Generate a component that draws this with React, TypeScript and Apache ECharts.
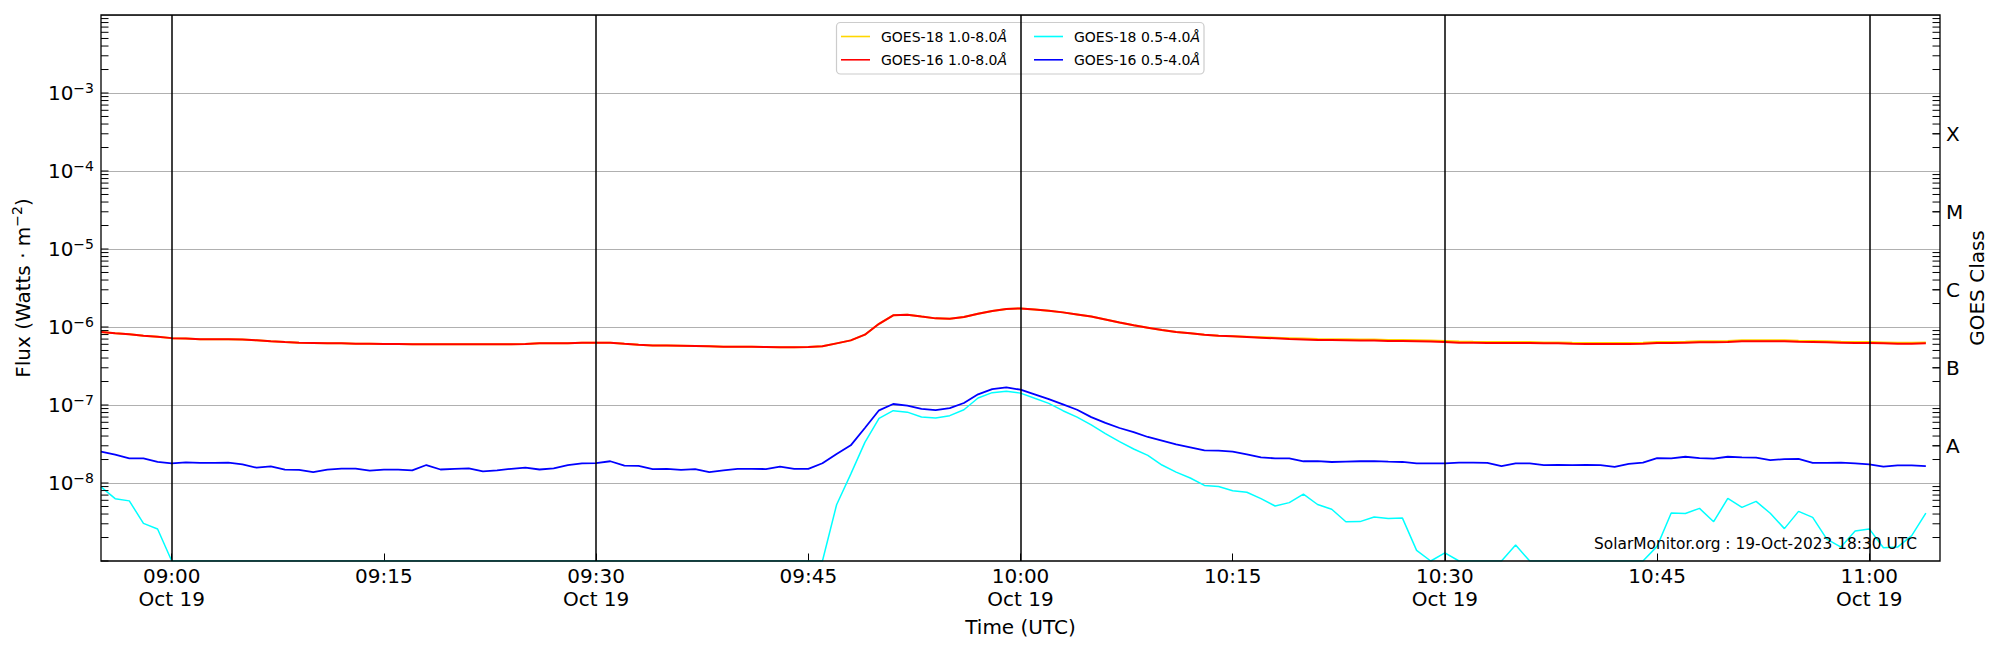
import React, { useEffect, useRef } from 'react';
import * as echarts from 'echarts';

const FONT = 'DejaVu Sans';

// Data: 1-minute cadence starting 08:55 UTC (minutes of day)
const START_MINUTE = 535;
const X_MIN = 535;
const X_MAX = 665;

const goes18Long = [
  8.6e-7, 8.3e-7, 8.05e-7, 7.7e-7, 7.5e-7, 7.2e-7, 7.1e-7, 6.95e-7, 6.95e-7, 6.95e-7,
  6.9e-7, 6.75e-7, 6.55e-7, 6.4e-7, 6.3e-7, 6.24e-7, 6.17e-7, 6.17e-7, 6.12e-7, 6.12e-7,
  6.06e-7, 6.06e-7, 6.0e-7, 6.0e-7, 6.0e-7, 6.0e-7, 6.0e-7, 6.0e-7, 6.0e-7, 6.0e-7,
  6.06e-7, 6.17e-7, 6.2e-7, 6.2e-7, 6.3e-7, 6.3e-7, 6.3e-7, 6.1e-7, 5.94e-7, 5.8e-7,
  5.8e-7, 5.75e-7, 5.7e-7, 5.65e-7, 5.6e-7, 5.6e-7, 5.58e-7, 5.55e-7, 5.52e-7, 5.52e-7,
  5.55e-7, 5.65e-7, 6.17e-7, 6.74e-7, 7.97e-7, 1.1e-6, 1.41e-6, 1.44e-6, 1.36e-6, 1.29e-6,
  1.28e-6, 1.34e-6, 1.48e-6, 1.6e-6, 1.7e-6, 1.73e-6, 1.68e-6, 1.62e-6, 1.54e-6, 1.45e-6,
  1.36e-6, 1.25e-6, 1.14e-6, 1.05e-6, 9.8e-7, 9.15e-7, 8.6e-7, 8.3e-7, 7.97e-7, 7.7e-7,
  7.6e-7, 7.5e-7, 7.4e-7, 7.3e-7, 7.2e-7, 7.1e-7, 7.0e-7, 6.98e-7, 6.95e-7, 6.9e-7,
  6.9e-7, 6.82e-7, 6.8e-7, 6.75e-7, 6.7e-7, 6.62e-7, 6.5e-7, 6.45e-7, 6.42e-7, 6.42e-7,
  6.42e-7, 6.4e-7, 6.35e-7, 6.35e-7, 6.28e-7, 6.25e-7, 6.25e-7, 6.25e-7, 6.25e-7, 6.3e-7,
  6.42e-7, 6.42e-7, 6.48e-7, 6.55e-7, 6.55e-7, 6.62e-7, 6.75e-7, 6.75e-7, 6.75e-7, 6.75e-7,
  6.68e-7, 6.62e-7, 6.55e-7, 6.48e-7, 6.42e-7, 6.42e-7, 6.35e-7, 6.28e-7, 6.28e-7, 6.35e-7,
];

const goes16Long = [
  8.6e-7, 8.3e-7, 8.05e-7, 7.7e-7, 7.5e-7, 7.2e-7, 7.1e-7, 6.95e-7, 6.95e-7, 6.95e-7,
  6.9e-7, 6.75e-7, 6.55e-7, 6.4e-7, 6.3e-7, 6.24e-7, 6.17e-7, 6.17e-7, 6.12e-7, 6.12e-7,
  6.06e-7, 6.06e-7, 6.0e-7, 6.0e-7, 6.0e-7, 6.0e-7, 6.0e-7, 6.0e-7, 6.0e-7, 6.0e-7,
  6.06e-7, 6.17e-7, 6.2e-7, 6.2e-7, 6.3e-7, 6.3e-7, 6.3e-7, 6.1e-7, 5.94e-7, 5.8e-7,
  5.8e-7, 5.75e-7, 5.7e-7, 5.65e-7, 5.6e-7, 5.6e-7, 5.58e-7, 5.55e-7, 5.52e-7, 5.52e-7,
  5.55e-7, 5.65e-7, 6.17e-7, 6.74e-7, 7.97e-7, 1.1e-6, 1.41e-6, 1.44e-6, 1.36e-6, 1.29e-6,
  1.28e-6, 1.34e-6, 1.48e-6, 1.6e-6, 1.7e-6, 1.73e-6, 1.68e-6, 1.62e-6, 1.54e-6, 1.45e-6,
  1.36e-6, 1.25e-6, 1.14e-6, 1.05e-6, 9.8e-7, 9.15e-7, 8.6e-7, 8.3e-7, 7.97e-7, 7.7e-7,
  7.6e-7, 7.45e-7, 7.3e-7, 7.15e-7, 7.0e-7, 6.9e-7, 6.8e-7, 6.8e-7, 6.75e-7, 6.7e-7,
  6.7e-7, 6.6e-7, 6.6e-7, 6.55e-7, 6.5e-7, 6.42e-7, 6.3e-7, 6.27e-7, 6.24e-7, 6.24e-7,
  6.24e-7, 6.24e-7, 6.17e-7, 6.17e-7, 6.1e-7, 6.06e-7, 6.06e-7, 6.06e-7, 6.06e-7, 6.12e-7,
  6.24e-7, 6.24e-7, 6.3e-7, 6.36e-7, 6.36e-7, 6.42e-7, 6.55e-7, 6.55e-7, 6.55e-7, 6.55e-7,
  6.48e-7, 6.42e-7, 6.36e-7, 6.3e-7, 6.24e-7, 6.24e-7, 6.17e-7, 6.1e-7, 6.1e-7, 6.17e-7,
];

const goes18Short = [
  8.9e-9, 6.3e-9, 5.9e-9, 3.04e-9, 2.57e-9, 1e-9, 1e-9, 1e-9, 1e-9, 1e-9,
  1e-9, 1e-9, 1e-9, 1e-9, 1e-9, 1e-9, 1e-9, 1e-9, 1e-9, 1e-9,
  1e-9, 1e-9, 1e-9, 1e-9, 1e-9, 1e-9, 1e-9, 1e-9, 1e-9, 1e-9,
  1e-9, 1e-9, 1e-9, 1e-9, 1e-9, 1e-9, 1e-9, 1e-9, 1e-9, 1e-9,
  1e-9, 1e-9, 1e-9, 1e-9, 1e-9, 1e-9, 1e-9, 1e-9, 1e-9, 1e-9,
  1e-9, 1e-9, 5.27e-9, 1.3e-8, 3.32e-8, 6.75e-8, 8.45e-8, 8.1e-8, 7.0e-8, 6.8e-8,
  7.3e-8, 8.7e-8, 1.23e-7, 1.44e-7, 1.5e-7, 1.42e-7, 1.22e-7, 1.05e-7, 8.45e-8, 7.0e-8,
  5.55e-8, 4.29e-8, 3.39e-8, 2.73e-8, 2.26e-8, 1.7e-8, 1.38e-8, 1.16e-8, 9.3e-9, 9.0e-9,
  7.97e-9, 7.6e-9, 6.3e-9, 5.07e-9, 5.6e-9, 7.2e-9, 5.3e-9, 4.6e-9, 3.19e-9, 3.2e-9,
  3.66e-9, 3.5e-9, 3.55e-9, 1.37e-9, 1e-9, 1.27e-9, 1e-9, 1e-9, 1e-9, 1e-9,
  1.6e-9, 1e-9, 1e-9, 1e-9, 1e-9, 1e-9, 1e-9, 1e-9, 1e-9, 1e-9,
  1.54e-9, 4.12e-9, 4.06e-9, 4.73e-9, 3.19e-9, 6.35e-9, 4.87e-9, 5.82e-9, 4.09e-9, 2.6e-9,
  4.33e-9, 3.63e-9, 1.91e-9, 1.51e-9, 2.43e-9, 2.58e-9, 1.48e-9, 1.51e-9, 2.11e-9, 4.12e-9,
];

const goes16Short = [
  2.52e-8, 2.31e-8, 2.07e-8, 2.07e-8, 1.86e-8, 1.79e-8, 1.84e-8, 1.81e-8, 1.81e-8, 1.82e-8,
  1.73e-8, 1.57e-8, 1.63e-8, 1.48e-8, 1.47e-8, 1.38e-8, 1.48e-8, 1.53e-8, 1.53e-8, 1.44e-8,
  1.48e-8, 1.48e-8, 1.45e-8, 1.7e-8, 1.49e-8, 1.52e-8, 1.54e-8, 1.41e-8, 1.45e-8, 1.52e-8,
  1.57e-8, 1.49e-8, 1.54e-8, 1.69e-8, 1.79e-8, 1.8e-8, 1.9e-8, 1.67e-8, 1.66e-8, 1.51e-8,
  1.52e-8, 1.47e-8, 1.51e-8, 1.38e-8, 1.45e-8, 1.52e-8, 1.52e-8, 1.51e-8, 1.62e-8, 1.52e-8,
  1.52e-8, 1.79e-8, 2.36e-8, 3.04e-8, 5.07e-8, 8.55e-8, 1.03e-7, 9.8e-8, 8.9e-8, 8.6e-8,
  9.1e-8, 1.06e-7, 1.37e-7, 1.6e-7, 1.68e-7, 1.57e-7, 1.37e-7, 1.19e-7, 1.02e-7, 8.7e-8,
  7.0e-8, 5.9e-8, 5.07e-8, 4.5e-8, 3.89e-8, 3.49e-8, 3.13e-8, 2.87e-8, 2.62e-8, 2.6e-8,
  2.52e-8, 2.33e-8, 2.13e-8, 2.07e-8, 2.07e-8, 1.9e-8, 1.91e-8, 1.86e-8, 1.88e-8, 1.9e-8,
  1.91e-8, 1.88e-8, 1.86e-8, 1.79e-8, 1.78e-8, 1.79e-8, 1.83e-8, 1.83e-8, 1.81e-8, 1.65e-8,
  1.78e-8, 1.78e-8, 1.7e-8, 1.71e-8, 1.7e-8, 1.71e-8, 1.69e-8, 1.61e-8, 1.76e-8, 1.83e-8,
  2.09e-8, 2.07e-8, 2.17e-8, 2.09e-8, 2.05e-8, 2.17e-8, 2.13e-8, 2.11e-8, 1.97e-8, 2.02e-8,
  2.04e-8, 1.81e-8, 1.81e-8, 1.83e-8, 1.79e-8, 1.73e-8, 1.62e-8, 1.68e-8, 1.68e-8, 1.65e-8,
];

const seriesNames = ['GOES-18 1.0-8.0Å', 'GOES-16 1.0-8.0Å', 'GOES-18 0.5-4.0Å', 'GOES-16 0.5-4.0Å'];
const seriesColors = ['#FFD700', '#FF0000', '#00FFFF', '#0000FF'];
const seriesWidths = [2, 2, 1.5, 1.8];

const xTickValues = [540, 555, 570, 585, 600, 615, 630, 645, 660];
const xTickLabels = [
  '09:00\nOct 19', '09:15', '09:30\nOct 19', '09:45', '10:00\nOct 19',
  '10:15', '10:30\nOct 19', '10:45', '11:00\nOct 19',
];
const vLineValues = [540, 570, 600, 630, 660];

const yLabelExponents = [-8, -7, -6, -5, -4, -3];
const tickDecades = [-9, -8, -7, -6, -5, -4, -3];
const minorMultipliers = [2, 3, 4, 5, 6, 7, 8, 9];

const classLabels = ['A', 'B', 'C', 'M', 'X'];
const classValues = [3e-8, 3e-7, 3e-6, 3e-5, 3e-4];

const watermark = 'SolarMonitor.org : 19-Oct-2023 18:30 UTC';

const TICK_LEN = 7.5;

export default function App() {
  const ref = useRef<HTMLDivElement>(null);

  useEffect(() => {
    if (!ref.current) return;
    const chart = echarts.init(ref.current, null, { renderer: 'svg' });

    const toXY = (vals: number[]) => vals.map((v, i) => [START_MINUTE + i, v]);
    const allData = [goes18Long, goes16Long, goes18Short, goes16Short];

    const leftTicks: number[][] = [];
    const rightTicks: number[][] = [];
    tickDecades.forEach((d) => {
      leftTicks.push([X_MIN, Math.pow(10, d), 1]);
      minorMultipliers.forEach((k) => {
        leftTicks.push([X_MIN, k * Math.pow(10, d), 1]);
        rightTicks.push([X_MAX, k * Math.pow(10, d), -1]);
      });
    });

    const tickRender = (params: any, api: any) => {
      const p = api.coord([api.value(0), api.value(1)]);
      const dir = api.value(2);
      return {
        type: 'line',
        shape: { x1: p[0], y1: p[1], x2: p[0] + dir * TICK_LEN, y2: p[1] },
        style: { stroke: '#000', lineWidth: 1 },
      };
    };

    const legendRich = {
      t: { fontSize: 14, lineHeight: 16, fontFamily: FONT, color: '#000' },
      a: { fontSize: 14, lineHeight: 16, fontFamily: FONT, fontStyle: 'italic', color: '#000' },
    };
    const legendFormatter = (name: string) => `{t|${name.slice(0, -1)}}{a|${name.slice(-1)}}`;
    const legendBase = {
      orient: 'vertical',
      top: 28.5,
      icon: 'rect',
      itemWidth: 29,
      itemHeight: 1.6,
      itemGap: 7.3,
      padding: 0,
      selectedMode: false,
      formatter: legendFormatter,
      textStyle: {
        fontSize: 14,
        lineHeight: 16,
        fontFamily: FONT,
        color: '#000',
        padding: [0, 0, 0, 6],
        rich: legendRich,
      },
    };

    const lineSeries = allData.map((vals, i) => ({
      name: seriesNames[i],
      type: 'line',
      data: toXY(vals),
      symbol: 'none',
      showSymbol: false,
      silent: true,
      color: seriesColors[i],
      itemStyle: { color: seriesColors[i] },
      lineStyle: { color: seriesColors[i], width: seriesWidths[i] },
      z: 2,
      ...(i === 0
        ? {
            markLine: {
              silent: true,
              symbol: ['none', 'none'],
              label: { show: false },
              lineStyle: { color: '#000', width: 1.5, type: 'solid' },
              emphasis: { disabled: true },
              data: vLineValues.map((v) => ({ xAxis: v })),
            },
          }
        : {}),
    }));

    chart.setOption({
      animation: false,
      grid: { left: 101, right: 60, top: 15, bottom: 89, containLabel: false },
      legend: [
        { ...legendBase, left: 841, data: [seriesNames[0], seriesNames[1]] },
        { ...legendBase, left: 1034, data: [seriesNames[2], seriesNames[3]] },
      ],
      xAxis: {
        type: 'value',
        min: X_MIN,
        max: X_MAX,
        axisLine: { show: false },
        axisTick: { show: true, inside: true, length: TICK_LEN, customValues: xTickValues, lineStyle: { color: '#000', width: 1 } },
        axisLabel: {
          show: true,
          customValues: xTickValues,
          formatter: (v: number) => {
            const idx = xTickValues.indexOf(Math.round(v));
            return idx >= 0 ? xTickLabels[idx] : '';
          },
          fontSize: 20,
          lineHeight: 23.5,
          fontFamily: FONT,
          color: '#000',
          margin: 3,
        },
        splitLine: { show: false },
        name: 'Time (UTC)',
        nameLocation: 'middle',
        nameGap: 50,
        nameTextStyle: { fontSize: 20, fontFamily: FONT, color: '#000', lineHeight: 23 },
      },
      yAxis: [
        {
          type: 'log',
          logBase: 10,
          min: 1e-9,
          max: 1e-2,
          position: 'left',
          axisLine: { show: false },
          axisTick: { show: false },
          axisLabel: {
            margin: 7,
            color: '#000',
            fontFamily: FONT,
            fontSize: 20,
            formatter: (v: number) => {
              const e = Math.round(Math.log10(v));
              return yLabelExponents.indexOf(e) >= 0 ? `{b|10}{s|−${-e}}` : '';
            },
            rich: {
              b: { fontSize: 20, lineHeight: 25, fontFamily: FONT, color: '#000' },
              s: { fontSize: 14, lineHeight: 14, verticalAlign: 'top', fontFamily: FONT, color: '#000' },
            },
          },
          splitLine: { show: true, showMinLine: false, showMaxLine: false, lineStyle: { color: '#b0b0b0', width: 1 } },
          name: '{n|Flux (Watts · m}{s|−2}{n|)}',
          nameLocation: 'middle',
          nameRotate: 90,
          nameGap: 66,
          nameTextStyle: {
            fontSize: 20,
            fontFamily: FONT,
            color: '#000',
            rich: {
              n: { fontSize: 20, lineHeight: 25, fontFamily: FONT, color: '#000' },
              s: { fontSize: 14, lineHeight: 14, verticalAlign: 'top', fontFamily: FONT, color: '#000' },
            },
          },
        },
        {
          type: 'log',
          logBase: 10,
          min: 1e-9,
          max: 1e-2,
          position: 'right',
          axisLine: { show: false },
          axisTick: { show: false },
          axisLabel: { show: false },
          splitLine: { show: false },
          name: 'GOES Class',
          nameLocation: 'middle',
          nameRotate: 90,
          nameGap: 27,
          nameTextStyle: { fontSize: 20, fontFamily: FONT, color: '#000' },
        },
      ],
      series: [
        ...lineSeries,
        {
          type: 'custom',
          coordinateSystem: 'cartesian2d',
          silent: true,
          z: 5,
          data: leftTicks,
          renderItem: tickRender,
        },
        {
          type: 'custom',
          coordinateSystem: 'cartesian2d',
          silent: true,
          z: 5,
          data: rightTicks,
          renderItem: tickRender,
        },
        {
          type: 'custom',
          coordinateSystem: 'cartesian2d',
          silent: true,
          z: 5,
          clip: false,
          data: classValues.map((v) => [X_MAX, v]),
          renderItem: (params: any, api: any) => {
            const p = api.coord([api.value(0), api.value(1)]);
            return {
              type: 'group',
              children: [
                {
                  type: 'line',
                  shape: { x1: p[0], y1: p[1], x2: p[0] - TICK_LEN, y2: p[1] },
                  style: { stroke: '#000', lineWidth: 1 },
                },
                {
                  type: 'text',
                  x: p[0] + 6,
                  y: p[1],
                  style: {
                    text: classLabels[params.dataIndex],
                    fontSize: 20,
                    fontFamily: FONT,
                    fill: '#000',
                    align: 'left',
                    verticalAlign: 'middle',
                  },
                },
              ],
            };
          },
        },
      ],
      graphic: [
        {
          type: 'rect',
          z: 3,
          silent: true,
          shape: { x: 836.5, y: 22.5, width: 367.5, height: 51.5, r: 4 },
          style: { fill: 'rgba(255,255,255,0.8)', stroke: '#cccccc', lineWidth: 1.2 },
        },
        {
          type: 'text',
          z: 3,
          silent: true,
          x: 1917,
          y: 543.5,
          style: {
            text: watermark,
            fontSize: 15.4,
            fontFamily: FONT,
            fill: '#000',
            align: 'right',
            verticalAlign: 'middle',
          },
        },
        {
          type: 'rect',
          z: 10,
          silent: true,
          shape: { x: 101, y: 15, width: 1839, height: 546 },
          style: { fill: 'none', stroke: '#000', lineWidth: 1.3 },
        },
      ],
    });

    return () => {
      chart.dispose();
    };
  }, []);

  return (
    <div
      ref={ref}
      style={{ position: 'absolute', left: 0, top: 0, width: 2000, height: 650, background: '#fff' }}
    />
  );
}
